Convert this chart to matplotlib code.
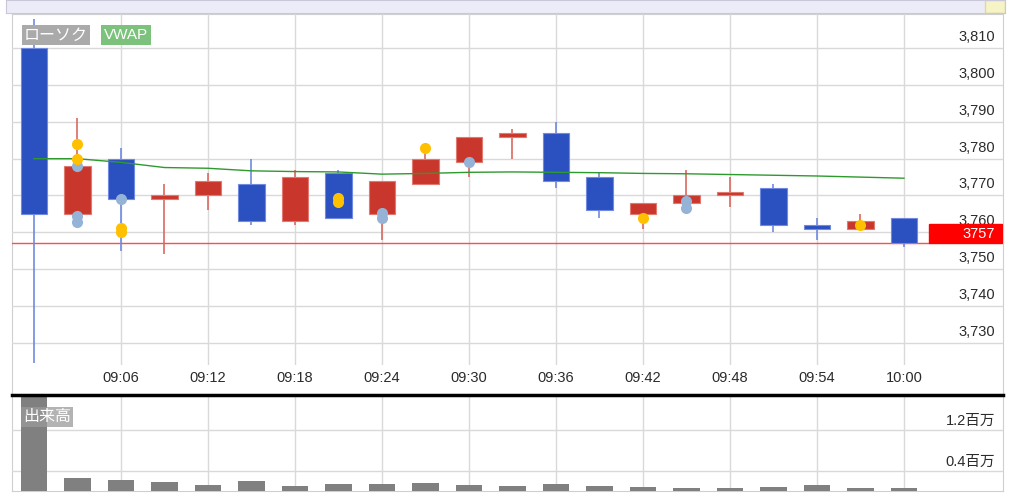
import numpy as np
import matplotlib.pyplot as plt
from matplotlib.patches import Rectangle

## DATA
# minutes after 09:00, one candle every 3 minutes
times = np.arange(0, 61, 3)
opens = [3810, 3765, 3780, 3769, 3770, 3773, 3763, 3776, 3765, 3773, 3779,
         3786, 3787, 3775, 3765, 3768, 3770, 3772, 3762, 3761, 3764]
highs = [3818, 3791, 3783, 3773, 3776, 3780, 3777, 3777, 3774, 3781.5, 3786,
         3788, 3790, 3776, 3768, 3777, 3775, 3773, 3764, 3765, 3764]
lows = [3724.6, 3765, 3755, 3754, 3766, 3762, 3762, 3764, 3758, 3773, 3775,
        3780, 3772, 3764, 3761, 3765, 3767, 3760, 3758, 3761, 3756]
closes = [3765, 3778, 3769, 3770, 3774, 3763, 3775, 3764, 3774, 3780, 3786,
          3787, 3774, 3766, 3768, 3770, 3771, 3762, 3761, 3763, 3757]
vwap = [3780, 3780, 3779, 3777.6, 3777.4, 3776.7, 3776.5, 3776.4, 3775.8, 3776.0, 3776.3,
        3776.4, 3776.3, 3776.2, 3776.0, 3775.9, 3775.7, 3775.5, 3775.3, 3775.0, 3774.7]
volumes = [2100000, 247000, 215000, 169000, 110000, 195000, 91000, 130000, 130000, 150000, 117000,
           91000, 130000, 91000, 72000, 52000, 52000, 72000, 117000, 52000, 52000]

# signal dots
yellow_t = [3, 3, 6, 6, 21, 21, 27, 42, 57]
yellow_p = [3784, 3780, 3761.2, 3760.0, 3769.2, 3768.1, 3783, 3764, 3762]
blue_t = [3, 3, 3, 6, 24, 24, 30, 45, 45]
blue_p = [3778, 3764.3, 3762.8, 3769, 3765.3, 3764.0, 3779, 3768.5, 3766.5]

last_price = 3757
price_ticks = [3730, 3740, 3750, 3760, 3770, 3780, 3790, 3800, 3810]
time_ticks = np.arange(6, 61, 6)
time_labels = ['09:06', '09:12', '09:18', '09:24', '09:30', '09:36', '09:42', '09:48', '09:54', '10:00']
vol_ticks = [400000, 1200000]
vol_labels = ['0.4百万', '1.2百万']

## STYLE
BLUE = '#2b50bf'
BLUE_WICK = '#6f8ae0'
RED = '#c9372c'
RED_WICK = '#db6a60'
GRID = '#d9d9d9'
TXT = '#2b2b2b'
plt.rcParams['font.family'] = ['Liberation Sans', 'Noto Sans CJK JP', 'DejaVu Sans']

W, H = 1024, 503
fig = plt.figure(figsize=(W / 100, H / 100), dpi=100)

def rect(x0, y0, x1, y1):
    # pixel box (top-left origin) -> figure fraction
    return [x0 / W, (H - y1) / H, (x1 - x0) / W, (y1 - y0) / H]

xlim = (-1.517, 66.83)

# top navigator strip
strip = fig.add_axes(rect(6, 0, 1005, 13))
strip.set_facecolor('#ececf8')
strip.add_patch(Rectangle((0.98, 0), 0.02, 1, transform=strip.transAxes, color='#f6f3c6', ec='#ddd9a0'))
strip.set_xticks([])
strip.set_yticks([])
for s in strip.spines.values():
    s.set_color('#c8c8d8')

# frame around both panels
frame = fig.add_axes(rect(12, 14, 1003, 491))
frame.set_xticks([])
frame.set_yticks([])
for s in frame.spines.values():
    s.set_color('#cfcfcf')

## PRICE PANEL
ax = fig.add_axes(rect(12, 14, 1003, 365))
ax.patch.set_alpha(0)
ax.set_xlim(xlim)
ax.set_ylim(3723.94, 3819.32)
for s in ax.spines.values():
    s.set_visible(False)
ax.set_yticks(price_ticks)
ax.set_yticklabels([])
ax.set_xticks(time_ticks)
ax.set_xticklabels(time_labels, fontsize=10.5, color=TXT)
ax.tick_params(length=0, pad=4)
ax.grid(True, color=GRID, lw=1)
ax.set_axisbelow(True)

for p in price_ticks:
    ax.text(0.992, p + 1.1, f'{p:,}', transform=ax.get_yaxis_transform(),
            ha='right', va='bottom', fontsize=10.5, color=TXT)

o = np.array(opens)
c = np.array(closes)
up = c >= o
body_lo = np.minimum(o, c)
body_h = np.maximum(np.abs(c - o), 0.5)
cols = np.where(up, RED, BLUE)
wick_cols = np.where(up, RED_WICK, BLUE_WICK)

ax.vlines(times, lows, highs, colors=wick_cols, lw=1.2, zorder=2)
ax.bar(times, body_h, bottom=body_lo, width=1.8, color=cols,
       edgecolor=np.where(up, '#e07a70', '#6f8ae0'), lw=0.8, zorder=3)

ax.plot(times, vwap, color='#2e9a2e', lw=1, zorder=4)

# last price line and tag
tag_x = 61.7
ax.plot([xlim[0], tag_x], [last_price, last_price], color='#ff4d4d', lw=1, zorder=1)
ax.add_patch(Rectangle((tag_x, last_price), xlim[1] - tag_x - 0.1, 5.2, color='#ff0000', zorder=5))
ax.text(0.992, last_price + 2.6, str(last_price), transform=ax.get_yaxis_transform(),
        ha='right', va='center', fontsize=10.5, color='white', zorder=6)

ax.plot(blue_t, blue_p, 'o', color='#95b3d7', ms=8, mec='none', zorder=6)
ax.plot(yellow_t, yellow_p, 'o', color='#ffc000', ms=8, mec='none', zorder=7)

fig.text(56 / W, 1 - 35 / H, 'ローソク', ha='center', va='center', fontsize=11.5, color='white',
         family=['Noto Sans CJK JP', 'DejaVu Sans'],
         bbox=dict(boxstyle='square,pad=0.12', fc='#aaaaaa', ec='none'))
fig.text(126 / W, 1 - 35 / H, 'VWAP', ha='center', va='center', fontsize=11, color='white',
         bbox=dict(boxstyle='square,pad=0.2', fc='#7cc17c', ec='none'))

## VOLUME PANEL
axv = fig.add_axes(rect(12, 395, 1003, 491))
axv.patch.set_alpha(0)
axv.set_xlim(xlim)
axv.set_ylim(0, 1.879e6)
for k, s in axv.spines.items():
    s.set_visible(k == 'top')
axv.spines['top'].set_color('black')
axv.spines['top'].set_linewidth(2.5)
axv.set_xticks(time_ticks)
axv.set_xticklabels([])
axv.set_yticks(vol_ticks)
axv.set_yticklabels([])
axv.tick_params(length=0)
axv.grid(True, color=GRID, lw=1)
axv.set_axisbelow(True)
axv.bar(times, volumes, width=1.8, color='#808080', zorder=2)
for v, lab in zip(vol_ticks, vol_labels):
    axv.text(0.992, v + 0.04e6, lab, transform=axv.get_yaxis_transform(),
             ha='right', va='bottom', fontsize=10.5, color=TXT,
             family=['Liberation Sans', 'Noto Sans CJK JP'])
axv.text(0.011, 1.45e6, '出来高', transform=axv.get_yaxis_transform(),
         ha='left', va='center', fontsize=11.5, color='white',
         family=['Noto Sans CJK JP', 'DejaVu Sans'], zorder=5,
         bbox=dict(boxstyle='square,pad=0.12', fc='#9a9a9a', ec='none', alpha=0.75))

fig.savefig('out.png', dpi=100)
